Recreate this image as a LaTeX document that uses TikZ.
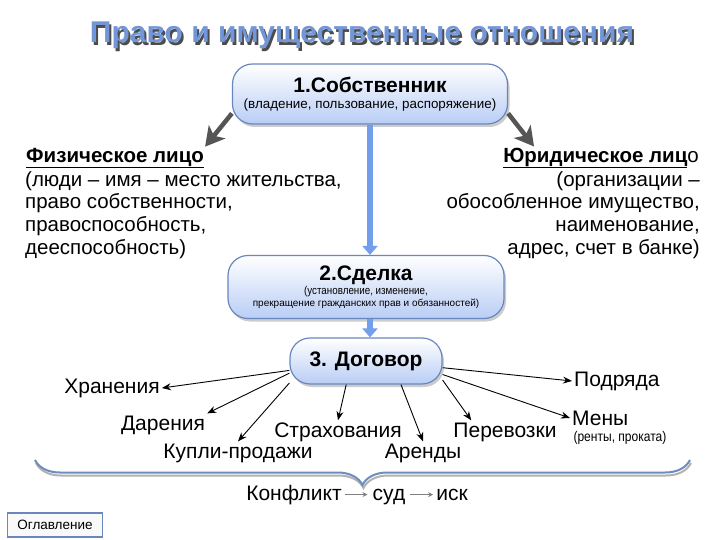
\documentclass[tikz,border=0pt]{standalone}
\usepackage{fontspec}
\setmainfont{Liberation Sans}
\newfontfamily\narrowfont[FakeStretch=0.86]{Liberation Sans}
\usetikzlibrary{arrows.meta,shadows,decorations.pathreplacing}

\definecolor{pillborder}{RGB}{105,135,190}
\definecolor{pillfill}{RGB}{185,205,245}
\definecolor{arrowblue}{RGB}{115,158,235}
\definecolor{arrowgrey}{RGB}{85,85,85}
\definecolor{titleblue}{RGB}{115,150,215}
\definecolor{bracecol}{RGB}{110,140,190}

\begin{document}
\begin{tikzpicture}[
		x=1pt, y=-1pt,
		pill/.style={draw=pillborder, line width=1.2pt, rounded corners=20pt,
				top color=white, bottom color=pillfill, align=center, inner sep=0pt,
				drop shadow={shadow xshift=2pt, shadow yshift=-3pt, opacity=0.4}},
		sidehead/.style={font=\fontsize{20.5}{23}\selectfont\bfseries, inner sep=1pt},
		sidebody/.style={font=\fontsize{20.5}{22.7}\selectfont, inner sep=0pt},
		kind/.style={font=\fontsize{21}{23}\selectfont, inner sep=2pt},
		greyarrow/.style={draw=arrowgrey, line width=4.5pt, -{Stealth[length=19pt,width=21pt,inset=5pt]}},
		bluearrow/.style={draw=arrowblue, line width=6pt, -{Triangle[length=9pt,width=15pt]}},
		thinarrow/.style={draw=black, line width=0.9pt, -{Stealth[length=9pt,width=7pt]}},
		chainarrow/.style={draw=gray, line width=1.2pt, -{Stealth[length=5pt,width=5pt]}}
	]

	\useasboundingbox[fill=white] (0,0) rectangle (720,540);

	% Title
	\node[font=\fontsize{30}{32}\selectfont\bfseries, text=black!70] (titleshadow) at (364,38) {Право и имущественные отношения};
	\node[font=\fontsize{30}{32}\selectfont\bfseries, text=titleblue] (title) at (362,35) {Право и имущественные отношения};

	% Boxes
	\node[pill, minimum width=275pt, minimum height=60pt] (sob) at (370,94)
		{\fontsize{21}{23}\selectfont\bfseries 1.Собственник\\[4pt]
		 \fontsize{13.4}{15}\selectfont\mdseries (владение, пользование, распоряжение)};
	\node[pill, minimum width=276pt, minimum height=63pt] (sdel) at (366,287)
		{\fontsize{21}{23}\selectfont\bfseries 2.Сделка\\[1pt]
		 \narrowfont\fontsize{11.4}{11}\selectfont\mdseries (установление, изменение,\\
		 прекращение гражданских прав и обязанностей)};
	\node[pill, minimum width=152pt, minimum height=46pt] (dog) at (366,361)
		{\fontsize{21}{23}\selectfont\bfseries 3. Договор};

	% Physical and legal persons
	\node[sidehead, anchor=west] (fizh) at (25,158) {\underline{Физическое лицо}};
	\node[sidebody, anchor=north west, align=left] (fiz) at (25,171)
		{(люди – имя – место жительства,\\
		 право собственности,\\
		 правоспособность,\\
		 дееспособность)};
	\node[sidehead, anchor=east] (yurh) at (700,158) {\underline{Юридическое лиц}\mdseries о};
	\node[sidebody, anchor=north east, align=right] (yur) at (700,171)
		{(организации –\\
		 обособленное имущество,\\
		 наименование,\\
		 адрес, счет в банке)};

	\draw[greyarrow] (sob.188) -- (fizh.north east);
	\draw[greyarrow] (sob.352) -- ([xshift=32pt]yurh.north west);

	\draw[bluearrow] (sob.south) -- (sob.south |- sdel.north);
	\draw[bluearrow] (sob.south |- sdel.south) -- (sob.south |- dog.north);

	% Kinds of contracts
	\node[kind] (khr) at (112,388) {Хранения};
	\node[kind] (dar) at (163,425) {Дарения};
	\node[kind] (kup) at (238,453) {Купли-продажи};
	\node[kind] (strah) at (338,432) {Страхования};
	\node[kind] (arend) at (423,453) {Аренды};
	\node[kind] (perev) at (505,432) {Перевозки};
	\node[kind, anchor=west] (meny) at (570,418) {Мены};
	\node[font=\narrowfont\fontsize{14}{15}\selectfont, anchor=west] (rent) at (570,438) {(ренты, проката)};
	\node[kind, anchor=west] (podr) at (572,381) {Подряда};

	\foreach \from/\to in {187/khr.east, 189/dar.north east, 196/kup.north, 230/strah.north,
			326/arend.north, 350/meny.west, 355/podr.west}
		\draw[thinarrow] (dog.\from) -- (\to);
	\draw[thinarrow] (dog.346) -- ([xshift=20pt]perev.north west);

	% Brace
	\draw[draw=gray!60, line width=2pt, decorate, decoration={brace, mirror, amplitude=25pt}]
		(36,463) -- (691,463);
	\draw[draw=bracecol, line width=2pt, decorate, decoration={brace, mirror, amplitude=25pt}]
		(35,460) -- (690,460);

	% Conflict chain
	\node[kind, inner sep=3pt, anchor=base] (konf) at (294,500) {Конфликт};
	\node[kind, inner sep=5pt, anchor=base] (sud) at (389,500) {суд};
	\node[kind, inner sep=3pt, anchor=base] (isk) at (452,500) {иск};
	\draw[chainarrow] (konf.east) -- (sud.west |- konf.east);
	\draw[chainarrow] (sud.east |- konf.east) -- (isk.west |- konf.east);

	% Contents button
	\node[draw=pillborder, line width=1.2pt, fill=gray!5, minimum width=95pt, minimum height=24pt,
		font=\fontsize{13.5}{15}\selectfont] (ogl) at (55,525) {Оглавление};

\end{tikzpicture}
\end{document}
